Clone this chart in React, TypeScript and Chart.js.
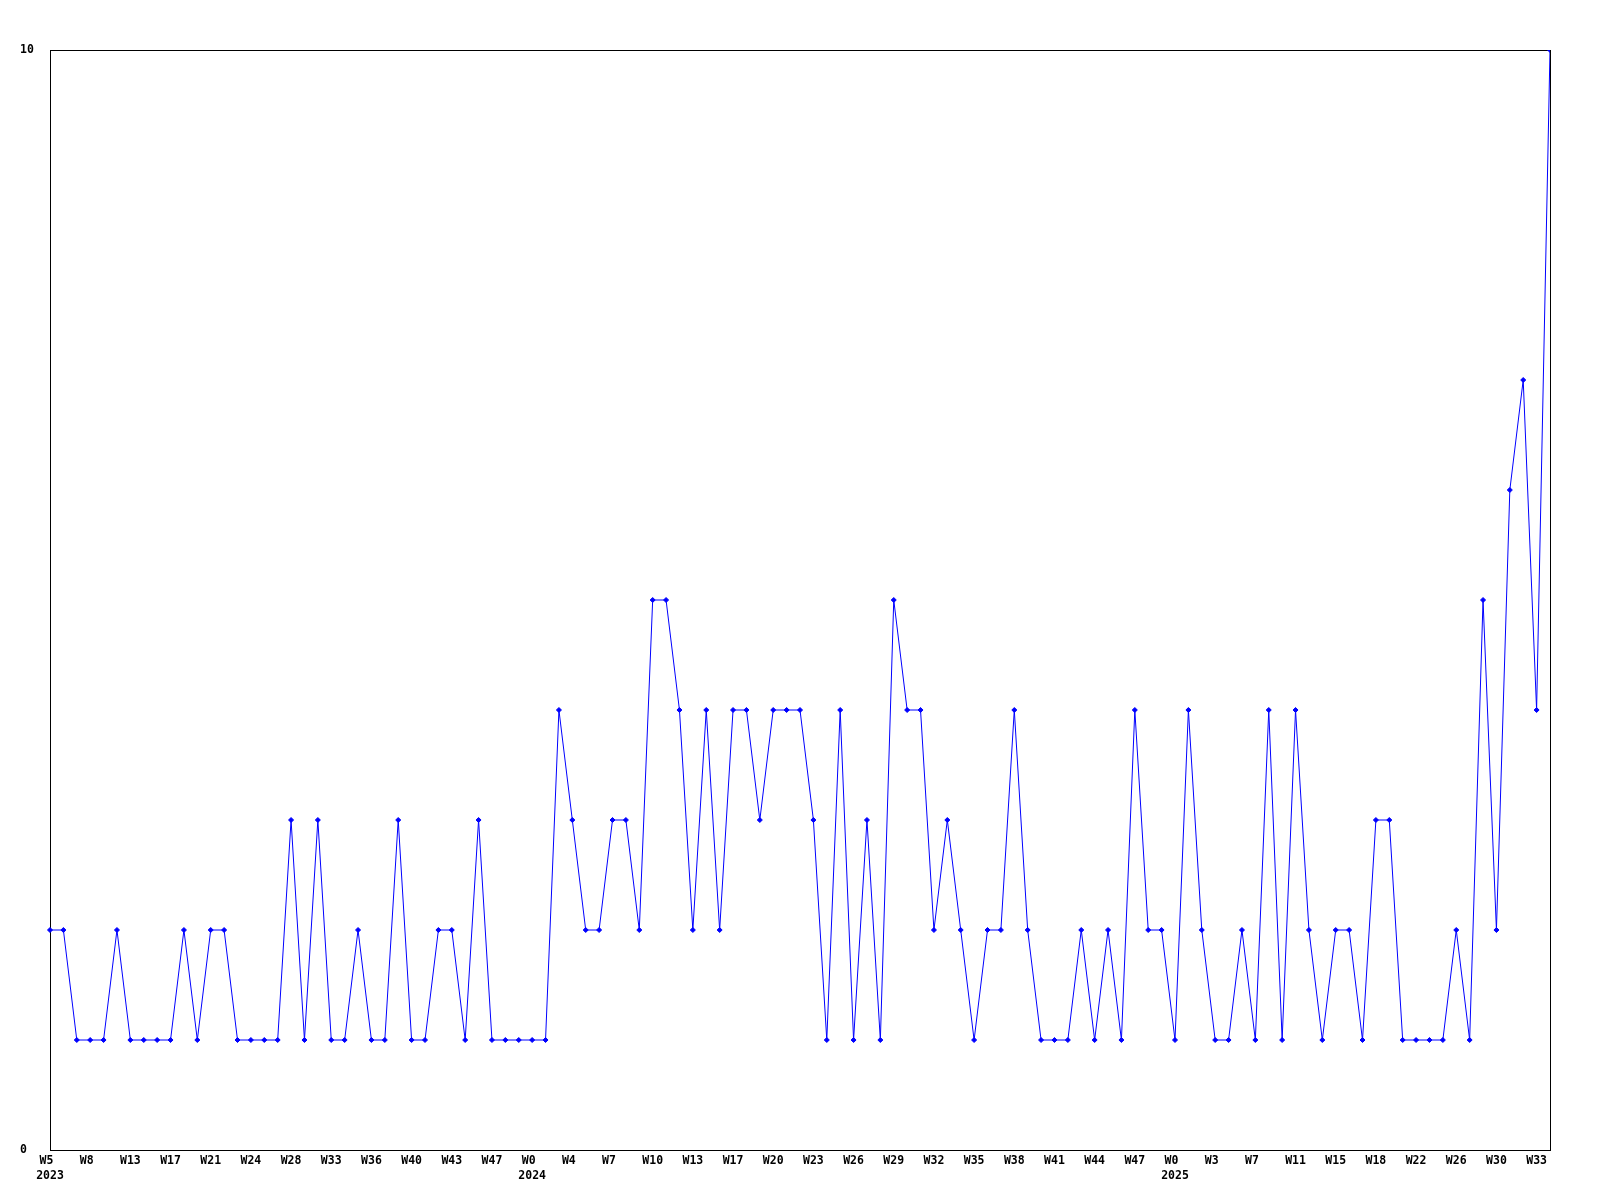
import React, { useEffect, useRef } from "react";
import { Chart, registerables } from "chart.js";

Chart.register(...registerables);

// Visible week tick labels (every third data point)
const weekTicks: string[] = [
  "W5", "W8", "W13", "W17", "W21", "W24", "W28", "W33", "W36", "W40", "W43", "W47",
  "W0", "W4", "W7", "W10", "W13", "W17", "W20", "W23", "W26", "W29", "W32", "W35",
  "W38", "W41", "W44", "W47", "W0", "W3", "W7", "W11", "W15", "W18", "W22", "W26",
  "W30", "W33",
];
// Year shown under a week tick (index into weekTicks)
const yearTickIndex: number[] = [0, 12, 28];
const yearTickText: string[] = ["2023", "2024", "2025"];

// Series values, one per week point
const values: number[] = [
  2, 2, 1, 1, 1, 2, 1, 1, 1, 1,
  2, 1, 2, 2, 1, 1, 1, 1, 3, 1,
  3, 1, 1, 2, 1, 1, 3, 1, 1, 2,
  2, 1, 3, 1, 1, 1, 1, 1, 4, 3,
  2, 2, 3, 3, 2, 5, 5, 4, 2, 4,
  2, 4, 4, 3, 4, 4, 4, 3, 1, 4,
  1, 3, 1, 5, 4, 4, 2, 3, 2, 1,
  2, 2, 4, 2, 1, 1, 1, 2, 1, 2,
  1, 4, 2, 2, 1, 4, 2, 1, 1, 2,
  1, 4, 1, 4, 2, 1, 2, 2, 1, 3,
  3, 1, 1, 1, 1, 2, 1, 5, 2, 6,
  7, 4, 10,
];

const TICK_EVERY = 3;
const yMin = 0;
const yMax = 10;

const categories: string[] = values.map((_, i) =>
  i % TICK_EVERY === 0 && weekTicks[i / TICK_EVERY] !== undefined ? weekTicks[i / TICK_EVERY] : ""
);

const tickFont = {
  family: "'DejaVu Sans Mono', 'Liberation Mono', monospace",
  size: 11.5,
  weight: "bold" as const,
  lineHeight: 1.35,
};

const framePlugin = {
  id: "frame",
  beforeDatasetsDraw(chart: any) {
    const { ctx, chartArea } = chart;
    ctx.save();
    ctx.strokeStyle = "#000000";
    ctx.lineWidth = 1;
    ctx.strokeRect(
      Math.round(chartArea.left) + 0.5,
      Math.round(chartArea.top) + 0.5,
      Math.round(chartArea.right - chartArea.left),
      Math.round(chartArea.bottom - chartArea.top)
    );
    ctx.restore();
  },
};

export default function App() {
  const canvasRef = useRef<HTMLCanvasElement | null>(null);

  useEffect(() => {
    if (!canvasRef.current) return;
    const chart = new Chart(canvasRef.current, {
      type: "line",
      data: {
        labels: categories,
        datasets: [
          {
            data: values,
            borderColor: "#0000ff",
            backgroundColor: "#0000ff",
            borderWidth: 1,
            pointStyle: "rectRot",
            pointRadius: 2.5,
            pointBorderWidth: 1,
            pointBackgroundColor: "#0000ff",
            pointBorderColor: "#0000ff",
            tension: 0,
            fill: false,
            clip: { left: 5, right: 0, top: 0, bottom: 5 },
          },
        ],
      },
      options: {
        responsive: false,
        animation: false,
        layout: { padding: { left: 20, right: 50, top: 50, bottom: 0 } },
        plugins: {
          legend: { display: false },
          tooltip: { enabled: false },
          title: { display: false },
        },
        scales: {
          x: {
            type: "category",
            offset: false,
            grid: { display: false, drawTicks: false },
            border: { display: false },
            ticks: {
              autoSkip: false,
              maxRotation: 0,
              minRotation: 0,
              padding: 3,
              color: "#000000",
              font: tickFont,
              callback: (_v: any, index: number) => {
                if (index % TICK_EVERY !== 0) return "";
                const k = index / TICK_EVERY;
                const w = weekTicks[k];
                if (w === undefined) return "";
                const yi = yearTickIndex.indexOf(k);
                const wl = w.padEnd(3, " ");
                return yi >= 0 ? [wl, yearTickText[yi]] : wl;
              },
            },
            afterFit: (scale: any) => {
              scale.height = 50;
            },
          },
          y: {
            min: yMin,
            max: yMax,
            grid: { display: false, drawTicks: false },
            border: { display: false },
            ticks: {
              stepSize: yMax - yMin,
              crossAlign: "far",
              padding: 4,
              color: "#000000",
              font: tickFont,
            },
            afterFit: (scale: any) => {
              scale.width = 30;
            },
          },
        },
      },
      plugins: [framePlugin],
    });
    return () => chart.destroy();
  }, []);

  return (
    <div style={{ position: "absolute", left: 0, top: 0, width: 1600, height: 1200, background: "#ffffff" }}>
      <canvas ref={canvasRef} width={1600} height={1200} style={{ display: "block" }} />
    </div>
  );
}
